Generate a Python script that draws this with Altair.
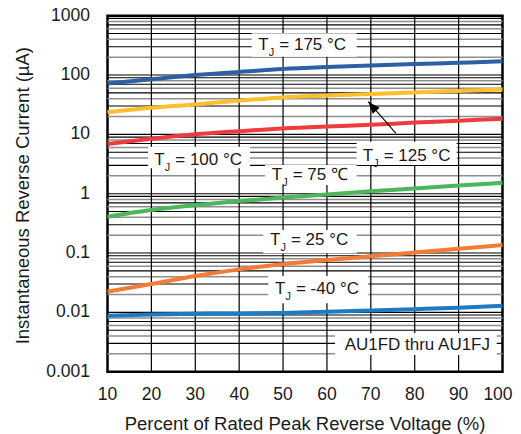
import altair as alt
import pandas as pd

FONT = "Liberation Sans"
TXT = "#1a1a1a"

# ---- data ----
x_pct = [10, 20, 30, 40, 50, 60, 70, 80, 90, 100]
i_175 = [72, 85, 100, 113, 126, 136, 145, 153, 161, 170]
i_125 = [23.5, 28, 32, 37, 42, 45, 48, 51, 54, 57]
i_100 = [6.9, 8.4, 10, 11.3, 12.6, 13.6, 14.5, 15.8, 17, 18.3]
i_75 = [0.41, 0.53, 0.64, 0.75, 0.86, 0.97, 1.1, 1.22, 1.37, 1.53]
i_25 = [0.0223, 0.030, 0.041, 0.053, 0.065, 0.076, 0.088, 0.102, 0.118, 0.136]
i_m40 = [0.0088, 0.0092, 0.0095, 0.0096, 0.0098, 0.0102, 0.0107, 0.0113, 0.0120, 0.0129]

series_names = ["175", "125", "100", "75", "25", "-40"]
series_vals = [i_175, i_125, i_100, i_75, i_25, i_m40]
series_colors = ["#2e5fa3", "#fdbf2d", "#ef3b3e", "#4cb65a", "#f47b35", "#1b7bc4"]

x_ticks = [10, 20, 30, 40, 50, 60, 70, 80, 90, 100]
y_ticks = [0.001, 0.01, 0.1, 1, 10, 100, 1000]
y_tick_labels = ["0.001", "0.01", "0.1", "1", "10", "100", "1000"]
x_title = "Percent of Rated Peak Reverse Voltage (%)"
y_title = "Instantaneous Reverse Current (µA)"

# annotation labels (T_J ...), anchored at start of "T" baseline
lab_rest = ["= 175 °C", "= 100 °C", "= 125 °C", "= 75 ℃", "= 25 °C", "= -40 °C"]
lab_x = [44.36, 20.66, 68.14, 47.41, 47.02, 48.16]
lab_y = [264, 3.046, 3.599, 1.702, 0.1366, 0.0204]

# white boxes behind the labels
box_x1 = [42.85, 19.23, 66.77, 45.89, 45.5, 46.64, 61.83]
box_x2 = [66.77, 42.47, 89.56, 66.77, 66.77, 69.42, 98.68]
box_y1 = [505, 6.197, 7.52, 3.045, 0.2445, 0.04102, 0.004438]
box_y2 = [203.7, 2.68, 3.046, 1.401, 0.099, 0.01422, 0.001912]

part_text = ["AU1FD thru AU1FJ"]
part_x = [97.15]
part_y = [0.002321]

# arrow for 125 °C label
arrow_x = [75.73, 69.42]
arrow_y = [10.42, 35.53]

# ---- tables ----
rows = []
for name, vals in zip(series_names, series_vals):
    for xv, yv in zip(x_pct, vals):
        rows.append({"x": xv, "y": yv, "s": name})
curves = pd.DataFrame(rows)

decades = [0.01, 0.1, 1, 10, 100]
gray_minor = [m * 10.0 ** e for e in range(-3, 3) for m in (2, 4, 6, 8)]
black_minor = [m * 10.0 ** e for e in range(-3, 3) for m in (3, 5, 7, 9)] + decades
vert = [20, 30, 40, 50, 60, 70, 80, 90]

xs = alt.Scale(domain=[10, 100], nice=False, zero=False)
ys = alt.Scale(type="log", domain=[0.001, 1000], nice=False)

X = lambda f: alt.X(f, scale=xs, axis=None)
Y = lambda f: alt.Y(f, scale=ys, axis=None)

lines = alt.Chart(curves).mark_line(strokeWidth=4, interpolate="monotone").encode(
    x=X("x:Q"), y=Y("y:Q"),
    color=alt.Color("s:N", scale=alt.Scale(domain=series_names, range=series_colors), legend=None),
)

grid_gray = alt.Chart(pd.DataFrame({"y": gray_minor})).mark_rule(
    color="#8e8e8e", strokeWidth=1.5).encode(y=Y("y:Q"))
grid_black = alt.Chart(pd.DataFrame({"y": black_minor})).mark_rule(
    color="#000000", strokeWidth=1.1).encode(y=Y("y:Q"))
grid_vert = alt.Chart(pd.DataFrame({"x": vert})).mark_rule(
    color="#000000", strokeWidth=1.2).encode(x=X("x:Q"))

boxes = alt.Chart(pd.DataFrame({"x1": box_x1, "x2": box_x2, "y1": box_y1, "y2": box_y2})).mark_rect(
    color="white").encode(x=X("x1:Q"), x2="x2:Q", y=Y("y1:Q"), y2="y2:Q")

labels = pd.DataFrame({"x": lab_x, "y": lab_y, "rest": lab_rest,
                       "T": ["T"] * len(lab_x), "J": ["J"] * len(lab_x)})
base_lab = alt.Chart(labels)
t_text = base_lab.mark_text(font=FONT, fontSize=17, align="left", baseline="alphabetic", color=TXT).encode(
    x=X("x:Q"), y=Y("y:Q"), text="T:N")
j_text = base_lab.mark_text(font=FONT, fontSize=11, align="left", baseline="alphabetic", color=TXT,
                            dx=10.5, dy=6).encode(x=X("x:Q"), y=Y("y:Q"), text="J:N")
r_text = base_lab.mark_text(font=FONT, fontSize=17, align="left", baseline="alphabetic", color=TXT,
                            dx=21).encode(x=X("x:Q"), y=Y("y:Q"), text="rest:N")

part = alt.Chart(pd.DataFrame({"x": part_x, "y": part_y, "t": part_text})).mark_text(
    font=FONT, fontSize=17, align="right", baseline="alphabetic", color=TXT
).encode(x=X("x:Q"), y=Y("y:Q"), text="t:N")

arrow_df = pd.DataFrame({"x": arrow_x, "y": arrow_y, "o": [0, 1]})
arrow_line = alt.Chart(arrow_df).mark_line(color="black", strokeWidth=1.1).encode(
    x=X("x:Q"), y=Y("y:Q"), order="o:Q")
arrow_head = alt.Chart(arrow_df.iloc[[1]]).mark_point(
    shape="M0,0 L0.38,1 L-0.38,1 Z", filled=True, color="black", opacity=1, size=576, angle=319,
    strokeWidth=0
).encode(x=X("x:Q"), y=Y("y:Q"))

# ---- axes drawn as text through the scales ----
ytl = alt.Chart(pd.DataFrame({"y": y_ticks, "t": y_tick_labels})).mark_text(
    font=FONT, fontSize=17.5, align="right", baseline="middle", color=TXT
).encode(x=alt.value(-17.5), y=Y("y:Q"), text="t:N")

xtl_df = pd.DataFrame({"x": x_ticks, "t": [str(v) for v in x_ticks]})
xtl = alt.Chart(xtl_df).transform_filter("datum.x < 100").mark_text(
    font=FONT, fontSize=17.5, align="center", baseline="alphabetic", color=TXT
).encode(x=X("x:Q"), y=alt.value(356 + 28.3), text="t:N")
xtl_last = alt.Chart(xtl_df).transform_filter("datum.x >= 100").mark_text(
    font=FONT, fontSize=17.5, align="center", baseline="alphabetic", color=TXT, dx=-4.5
).encode(x=X("x:Q"), y=alt.value(356 + 28.3), text="t:N")

xtitle = alt.Chart(pd.DataFrame({"t": [x_title]})).mark_text(
    font=FONT, fontSize=18.5, align="center", baseline="alphabetic", color=TXT
).encode(x=alt.value(395 / 2), y=alt.value(356 + 58.3), text="t:N")
ytitle = alt.Chart(pd.DataFrame({"t": [y_title]})).mark_text(
    font=FONT, fontSize=18.5, align="center", baseline="alphabetic", color=TXT, angle=270
).encode(x=alt.value(-78.2), y=alt.value(356 / 2 + 2), text="t:N")

chart = alt.layer(
    grid_gray, grid_black, grid_vert, boxes, lines, t_text, j_text, r_text, part,
    arrow_line, arrow_head, ytl, xtl, xtl_last, xtitle, ytitle
).properties(
    width=395, height=356,
    padding={"left": 99.5, "top": 7.7, "right": 10.5, "bottom": 62},
    autosize=alt.AutoSizeParams(type="none"),
    background="white",
).configure_view(
    stroke="black", strokeWidth=2.5
)

chart.save("out.html", embed_options={"renderer": "svg", "actions": False})
